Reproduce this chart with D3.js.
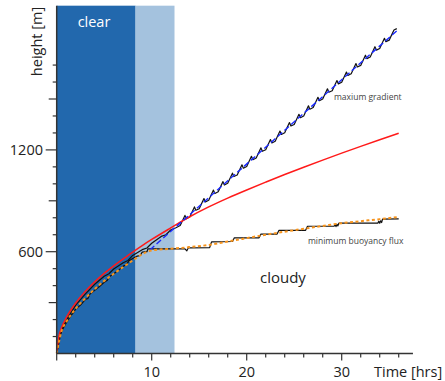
<!DOCTYPE html>
<html>
<head>
<meta charset="utf-8">
<script src="https://cdn.jsdelivr.net/npm/d3@7"></script>
<style>
  body { margin: 0; background: #fff; }
  svg { display: block; font-family: "Open Sans", sans-serif; }
</style>
</head>
<body>
<svg id="chart" width="445" height="381"></svg>
<script>
// regimes (hrs)
const regimes = [
    { name: 'clear', from: 0, to: 8.3, color: '#2268ad' },
    { name: 'transition', from: 8.3, to: 12.4, color: '#a4c2de' }
];

// mixed layer height from the model [t, h]
const modelCurve = [[0, 0], [0.25, 105], [0.5, 150], [1, 210], [1.5, 258], [2, 298], [3, 365],
    [4, 422], [5, 472], [6, 517], [7, 558], [8, 598], [9, 636], [10, 672], [12, 740],
    [14, 806], [16, 864], [18, 916], [20, 964], [22, 1010], [24, 1055], [26, 1098],
    [28, 1140], [30, 1181], [32, 1221], [34, 1260], [36, 1298]];

// maximum gradient estimate (jagged)
const maxGradient = [[0, 0], [0.5, 140], [1, 195], [2, 285], [3, 350], [4, 408], [5, 455], [5.5, 470],
    [6, 498], [7, 535], [7.5, 548], [8, 578], [9, 612], [9.5, 622], [10, 650], [11, 690],
    [11.5, 700], [12, 728], [12.5, 740],
    [13, 754], [13.5, 814], [13.65, 794], [14, 804], [14.5, 864], [14.65, 844],
    [15, 853], [15.5, 913], [15.65, 893], [16, 903], [16.5, 963], [16.65, 943],
    [17, 953], [17.5, 1013], [17.65, 993], [18, 1003], [18.5, 1063], [18.65, 1043],
    [19, 1052], [19.5, 1112], [19.65, 1092], [20, 1102], [20.5, 1162], [20.65, 1142],
    [21, 1152], [21.5, 1212], [21.65, 1192], [22, 1201], [22.5, 1261], [22.65, 1241],
    [23, 1251], [23.5, 1311], [23.65, 1291], [24, 1301], [24.5, 1361], [24.65, 1341],
    [25, 1350], [25.5, 1410], [25.65, 1390], [26, 1400], [26.5, 1460], [26.65, 1440],
    [27, 1450], [27.5, 1510], [27.65, 1490], [28, 1500], [28.5, 1560], [28.65, 1540],
    [29, 1549], [29.5, 1609], [29.65, 1589], [30, 1599], [30.5, 1659], [30.65, 1639],
    [31, 1649], [31.5, 1709], [31.65, 1689], [32, 1698], [32.5, 1758], [32.65, 1738],
    [33, 1748], [33.5, 1808], [33.65, 1788], [34, 1798], [34.5, 1858], [34.65, 1838],
    [35, 1847], [35.5, 1907], [35.8, 1915]];

// linear fit of the max gradient height
const maxGradientFit = [[9.8, 610], [35.9, 1907]];

// minimum buoyancy flux estimate (stepped)
const minFlux = [[0, 0], [0.3, 100], [0.6, 140], [1, 180], [1.5, 225], [1.75, 240], [2, 262],
    [2.5, 285], [3, 318], [3.3, 325], [3.5, 350], [4, 372], [4.5, 395], [5, 420], [5.3, 430],
    [5.6, 455], [6, 470], [6.5, 490], [7, 515], [7.3, 522], [7.6, 545], [8, 560], [8.4, 572],
    [8.8, 578], [9.0, 598], [9.5, 600], [9.6, 617], [13.5, 617], [13.7, 605], [13.9, 628],
    [14.0, 622], [16.1, 624], [16.3, 658], [18.5, 660], [18.7, 682], [21.3, 682], [21.5, 704],
    [23.2, 704], [23.4, 726], [26.2, 726], [26.4, 750], [29.2, 750], [29.3, 760], [29.4, 748],
    [29.5, 762], [29.6, 752], [29.7, 768], [33.8, 768], [33.9, 780], [34.0, 768], [34.1, 782],
    [34.2, 772], [34.3, 792], [36, 794]];

// smooth fit of the min flux height
const minFluxFit = [[0, 0], [0.5, 130], [1, 185], [2, 265], [3, 325], [4, 380], [5, 428],
    [6, 470], [7, 510], [8, 548], [9, 585], [10, 607], [12, 617], [14, 627], [16, 640],
    [18, 660], [20, 680], [22, 700], [24, 718], [26, 735], [28, 752], [30, 768], [32, 780],
    [34, 792], [36, 805]];

const xTicks = d3.range(0, 37, 2);
const xLabels = [10, 20, 30];
const yTicks = d3.range(100, 1800, 100);
const yLabels = [600, 1200];

const svg = d3.select('#chart');

const x = d3.scaleLinear().domain([0, 10]).range([56.7, 151.7]);
const y = d3.scaleLinear().domain([0, 600]).range([353.5, 251.7]);
const yTop = 2050, xEnd = 37.5;

svg.selectAll('rect.regime').data(regimes).enter().append('rect')
    .attr('class', 'regime')
    .attr('x', d => x(d.from))
    .attr('width', d => x(d.to) - x(d.from))
    .attr('y', y(yTop))
    .attr('height', y(0) - y(yTop))
    .style('fill', d => d.color);

const line = d3.line().x(d => x(d[0])).y(d => y(d[1]));

function drawLine(data, color, width, dash, curve) {
    svg.append('path')
        .attr('d', line.curve(curve || d3.curveLinear)(data))
        .style('fill', 'none')
        .style('stroke', color)
        .style('stroke-width', width)
        .style('stroke-dasharray', dash || null)
        .style('stroke-linejoin', 'round');
}

drawLine(maxGradient, '#111', 1.2);
drawLine(minFlux, '#111', 1.2);
drawLine(modelCurve, '#ff1a1a', 1.5, null, d3.curveMonotoneX);
drawLine(maxGradientFit, '#1a2aff', 1.4, '6,3');
drawLine(minFluxFit, '#f7941d', 2, '3,2.5', d3.curveMonotoneX);

// axes
const axisColor = '#333';
svg.append('line')
    .attr('x1', x(0)).attr('x2', x(xEnd)).attr('y1', y(0)).attr('y2', y(0))
    .style('stroke', axisColor).style('stroke-width', 1.5);
svg.append('line')
    .attr('x1', x(0)).attr('x2', x(0)).attr('y1', y(0)).attr('y2', y(yTop))
    .style('stroke', axisColor).style('stroke-width', 1.5);

svg.selectAll('line.xtick').data(xTicks).enter().append('line')
    .attr('x1', d => x(d)).attr('x2', d => x(d))
    .attr('y1', y(0)).attr('y2', d => y(0) + (d % 10 === 0 ? 7 : 4))
    .style('stroke', axisColor).style('stroke-width', 1.2);

svg.selectAll('text.xlabel').data(xLabels).enter().append('text')
    .attr('x', d => x(d)).attr('y', 377)
    .attr('text-anchor', 'middle')
    .style('font-size', '14.5px').style('fill', '#222')
    .text(d => d);

svg.selectAll('line.ytick').data(yTicks).enter().append('line')
    .attr('x1', x(0)).attr('y1', d => y(d)).attr('y2', d => y(d))
    .attr('x2', d => x(0) - (d % 600 === 0 ? 11 : d % 300 === 0 ? 8 : 4))
    .style('stroke', axisColor).style('stroke-width', 1.2);

svg.selectAll('text.ylabel').data(yLabels).enter().append('text')
    .attr('x', 43).attr('y', d => y(d) + 5)
    .attr('text-anchor', 'end')
    .style('font-size', '14.5px').style('fill', '#222')
    .text(d => d);

svg.append('text')
    .attr('transform', 'translate(42,41.5) rotate(-90)')
    .attr('text-anchor', 'middle')
    .style('font-size', '14.5px').style('fill', '#222')
    .text('height [m]');

svg.append('text')
    .attr('x', 374).attr('y', 377)
    .style('font-size', '14.5px').style('fill', '#222')
    .text('Time [hrs]');

// annotations
svg.append('text')
    .attr('x', 94).attr('y', 27).attr('text-anchor', 'middle')
    .style('font-size', '14.5px').style('fill', '#fff')
    .text('clear');

svg.append('text')
    .attr('x', 260).attr('y', 283)
    .style('font-size', '15px').style('fill', '#222')
    .text('cloudy');

svg.append('text')
    .attr('x', 334).attr('y', 100)
    .style('font-size', '8.5px').style('fill', '#444')
    .text('maxium gradient');

svg.append('text')
    .attr('x', 308).attr('y', 244)
    .style('font-size', '8.5px').style('fill', '#444')
    .text('minimum buoyancy flux');
</script>
</body>
</html>
